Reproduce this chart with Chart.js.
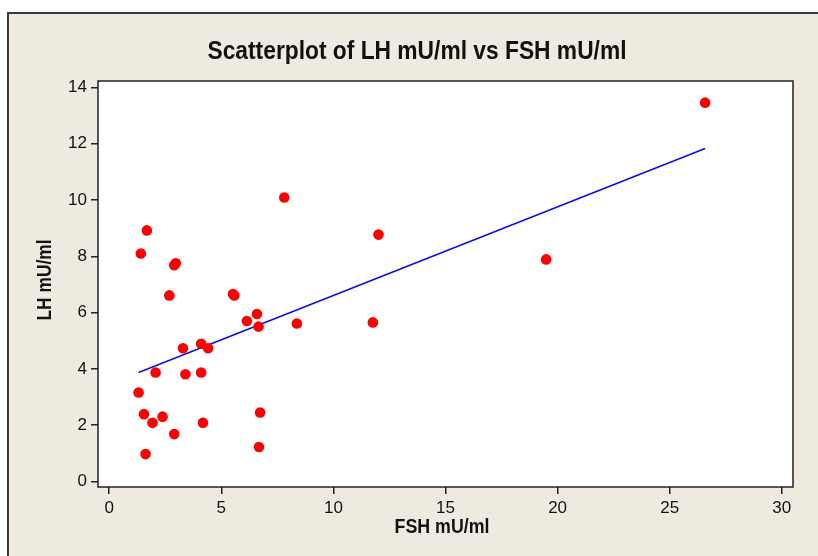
<!DOCTYPE html>
<html>
<head>
<meta charset="utf-8">
<script src="https://cdn.jsdelivr.net/npm/chart.js@4.4.1/dist/chart.umd.min.js"></script>
<style>
  html, body { margin: 0; padding: 0; background: #ffffff; }
  #wrap { width: 818px; height: 556px; position: relative; }
</style>
</head>
<body>
<div id="wrap"><canvas id="chart"></canvas></div>
<script>
const fshValues = [26.58, 19.49, 7.81, 12.01, 1.68, 1.41, 2.90, 2.97, 2.68, 5.52, 5.58,
  6.59, 6.14, 6.66, 8.37, 11.76, 3.29, 4.10, 4.41, 2.07, 3.40, 4.10, 1.31, 1.55,
  1.93, 2.38, 2.90, 4.18, 6.73, 1.62, 6.68];
const lhValues = [13.46, 7.89, 10.09, 8.77, 8.92, 8.10, 7.68, 7.75, 6.61, 6.66, 6.61,
  5.95, 5.70, 5.50, 5.61, 5.65, 4.73, 4.89, 4.73, 3.87, 3.81, 3.87, 3.16, 2.39,
  2.08, 2.30, 1.68, 2.08, 2.45, 0.97, 1.22];

// fitted line end points
const fitX = [1.31, 26.58];
const fitY = [3.87, 11.83];

const xTicks = [0, 5, 10, 15, 20, 25, 30];
const yTicks = [0, 2, 4, 6, 8, 10, 12, 14];

const chartTitle = 'Scatterplot of LH mU/ml vs FSH mU/ml';
const xTitle = 'FSH mU/ml';
const yTitle = 'LH mU/ml';

const beige = '#eeeae0';
const frameColor = '#222222';

// draws text squeezed to a given width (the Minitab font is narrow)
function narrowText(ctx, text, x, y, maxW, rotate) {
  ctx.save();
  ctx.translate(x, y);
  if (rotate) ctx.rotate(-Math.PI / 2);
  const w = ctx.measureText(text).width;
  const sx = Math.min(1, maxW / w);
  ctx.scale(sx, 1);
  ctx.textAlign = 'center';
  ctx.textBaseline = 'middle';
  ctx.fillText(text, 0, 0);
  ctx.restore();
}

const decor = {
  id: 'decor',
  beforeDraw(chart) {
    const ctx = chart.ctx;
    const a = chart.chartArea;
    ctx.save();
    ctx.fillStyle = '#ffffff';
    ctx.fillRect(0, 0, chart.width, chart.height);
    ctx.fillStyle = beige;
    ctx.fillRect(8, 13, chart.width - 8, chart.height - 13);
    ctx.fillStyle = '#3a3a3a';
    ctx.fillRect(7, 12, chart.width - 7, 2);
    ctx.fillRect(7, 12, 2, chart.height - 12);
    ctx.fillStyle = '#ffffff';
    ctx.fillRect(a.left, a.top, a.right - a.left, a.bottom - a.top);
    ctx.restore();
  },
  beforeDatasetsDraw(chart) {
    const ctx = chart.ctx;
    const a = chart.chartArea;
    ctx.save();
    ctx.strokeStyle = frameColor;
    ctx.lineWidth = 1.5;
    ctx.strokeRect(a.left, a.top, a.right - a.left, a.bottom - a.top);
    ctx.restore();
  },
  afterDraw(chart) {
    const ctx = chart.ctx;
    ctx.save();
    ctx.fillStyle = '#111111';
    ctx.font = 'bold 26px "Liberation Sans", Arial, sans-serif';
    narrowText(ctx, chartTitle, 417, 52, 419, false);
    ctx.font = 'bold 20px "Liberation Sans", Arial, sans-serif';
    narrowText(ctx, xTitle, 442, 527, 95, false);
    narrowText(ctx, yTitle, 45, 280, 81, true);
    ctx.restore();
  }
};

const points = fshValues.map((v, i) => ({ x: v, y: lhValues[i] }));
const fitLine = fitX.map((v, i) => ({ x: v, y: fitY[i] }));

new Chart(document.getElementById('chart'), {
  type: 'scatter',
  data: {
    datasets: [
      {
        data: points,
        backgroundColor: '#ff0000',
        borderColor: '#ff0000',
        pointRadius: 5.3,
        pointBorderWidth: 0,
        pointHoverRadius: 5.3
      },
      {
        type: 'line',
        data: fitLine,
        borderColor: '#0a0af0',
        borderWidth: 1.5,
        pointRadius: 0,
        fill: false
      }
    ]
  },
  options: {
    responsive: true,
    maintainAspectRatio: false,
    animation: false,
    layout: { padding: { top: 81, right: 25, left: 0, bottom: 0 } },
    plugins: {
      legend: { display: false },
      tooltip: { enabled: false }
    },
    scales: {
      x: {
        type: 'linear',
        min: -0.5,
        max: 30.5,
        afterBuildTicks: (s) => { s.ticks = xTicks.map(v => ({ value: v })); },
        afterFit: (s) => { s.height = 69; },
        grid: { drawOnChartArea: false, drawTicks: true, tickLength: 7, color: frameColor, lineWidth: 1.5 },
        border: { display: false },
        ticks: { color: '#111111', padding: 4, font: { family: '"Liberation Sans", Arial, sans-serif', size: 17 } }
      },
      y: {
        type: 'linear',
        min: -0.2,
        max: 14.23,
        afterBuildTicks: (s) => { s.ticks = yTicks.map(v => ({ value: v })); },
        afterFit: (s) => { s.width = 98; },
        grid: { drawOnChartArea: false, drawTicks: true, tickLength: 7, color: frameColor, lineWidth: 1.5 },
        border: { display: false },
        ticks: { color: '#111111', padding: 4, font: { family: '"Liberation Sans", Arial, sans-serif', size: 17 } }
      }
    }
  },
  plugins: [decor]
});
</script>
</body>
</html>
